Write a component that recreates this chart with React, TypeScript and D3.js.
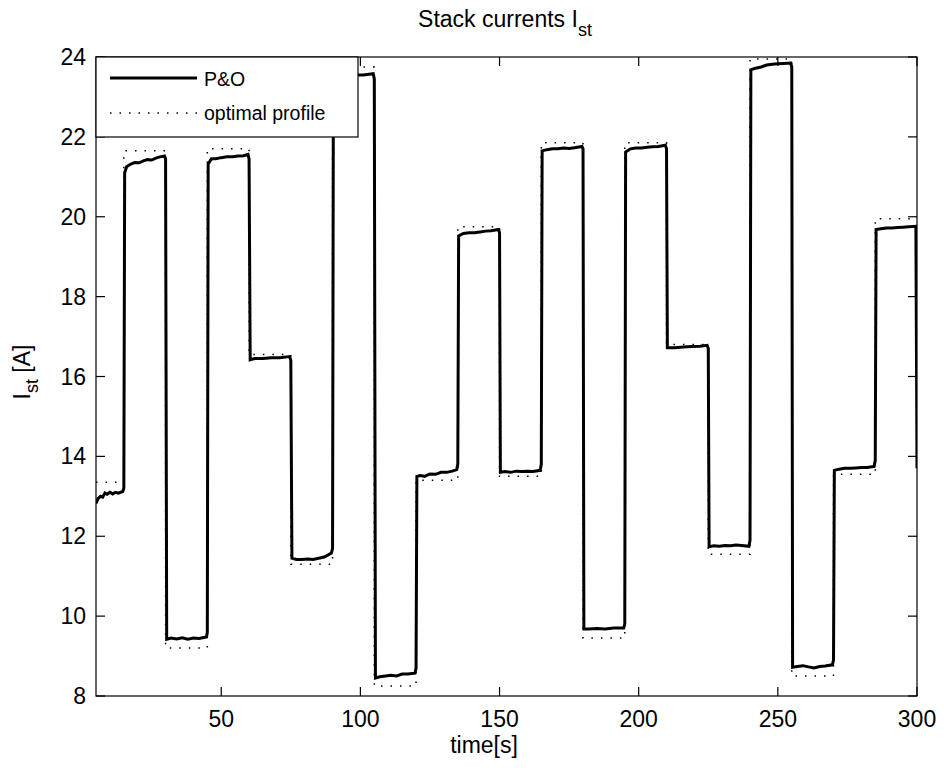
import React from "react";
import * as d3 from "d3";

// ---- data ----
const stepTimes = [5, 15, 30, 45, 60, 75, 90, 105, 120, 135, 150, 165, 180, 195, 210, 225, 240, 255, 270, 285, 300];
const optimalLevels = [13.35, 21.65, 9.2, 21.7, 16.55, 11.3, 23.75, 8.25, 13.4, 19.75, 13.5, 21.85, 9.45, 21.85, 16.8, 11.55, 23.95, 8.5, 13.55, 19.95];

const poPoints: [number, number][] = [
  [5, 12.82], [5.8, 12.95], [6.6, 13.0], [7.4, 12.98], [8.2, 13.08], [9, 13.05], [10, 13.1], [11, 13.06], [12, 13.1], [13, 13.08], [14.6, 13.12],
  [15, 13.2], [15.3, 21.1],
  [16, 21.25], [17.5, 21.32], [19, 21.36], [20.5, 21.35], [22, 21.4], [23.5, 21.43], [25, 21.42], [26.5, 21.47], [28, 21.5], [29.6, 21.52],
  [30, 21.45], [30.4, 9.42],
  [32, 9.45], [34, 9.43], [36, 9.46], [38, 9.42], [40, 9.45], [42, 9.44], [44.7, 9.48],
  [45, 9.6], [45.3, 21.32],
  [46.5, 21.45], [48, 21.45], [50, 21.48], [52, 21.5], [54, 21.5], [56, 21.52], [58, 21.53], [59.6, 21.56],
  [60, 21.45], [60.4, 16.42],
  [62, 16.45], [65, 16.45], [68, 16.47], [71, 16.47], [74.6, 16.5],
  [75, 16.4], [75.4, 11.45],
  [77, 11.42], [79, 11.42], [81, 11.43], [83, 11.42], [85, 11.45], [87, 11.48], [89.6, 11.58],
  [90, 11.7], [90.3, 23.5],
  [92, 23.5], [95, 23.52], [98, 23.55], [101, 23.55], [104.6, 23.58],
  [105, 23.45], [105.4, 8.45],
  [107, 8.48], [109, 8.5], [111, 8.52], [113, 8.5], [115, 8.55], [117, 8.55], [119.6, 8.57],
  [120, 8.7], [120.3, 13.5],
  [121.5, 13.52], [123, 13.5], [125, 13.56], [127, 13.55], [129, 13.6], [131, 13.6], [133, 13.63], [134.6, 13.67],
  [135, 13.8], [135.3, 19.52],
  [137, 19.58], [139, 19.6], [141, 19.6], [143, 19.62], [145, 19.64], [147, 19.65], [149.6, 19.68],
  [150, 19.6], [150.3, 13.6],
  [152, 13.62], [154, 13.6], [156, 13.63], [158, 13.62], [160, 13.63], [162, 13.62], [164.6, 13.65],
  [165, 13.8], [165.3, 21.65],
  [167, 21.68], [169, 21.7], [171, 21.7], [173, 21.72], [175, 21.71], [177, 21.73], [179.6, 21.76],
  [180, 21.7], [180.3, 9.68],
  [182, 9.68], [185, 9.69], [188, 9.68], [191, 9.7], [194.6, 9.7],
  [195, 9.8], [195.3, 21.62],
  [197, 21.7], [199, 21.72], [201, 21.72], [203, 21.74], [205, 21.75], [207, 21.76], [209.6, 21.79],
  [210, 21.7], [210.3, 16.72],
  [213, 16.72], [216, 16.74], [219, 16.75], [222, 16.76], [224.6, 16.78],
  [225, 16.7], [225.3, 11.74],
  [227, 11.76], [229, 11.75], [231, 11.77], [233, 11.76], [235, 11.78], [237, 11.77], [239.6, 11.75],
  [240, 11.9], [240.3, 23.68],
  [242, 23.72], [244, 23.75], [246, 23.8], [248, 23.82], [250, 23.83], [252, 23.84], [254.6, 23.85],
  [255, 23.75], [255.3, 8.72],
  [257, 8.74], [259, 8.76], [261, 8.73], [263, 8.7], [265, 8.74], [267, 8.75], [269.6, 8.78],
  [270, 8.9], [270.3, 13.65],
  [272, 13.68], [274, 13.7], [276, 13.7], [278, 13.71], [280, 13.72], [282, 13.72], [284.6, 13.75],
  [285, 13.9], [285.3, 19.68],
  [287, 19.7], [289, 19.72], [291, 19.72], [293, 19.73], [295, 19.74], [297, 19.75], [299.6, 19.76],
  [300, 13.7],
];

const xTicks = [50, 100, 150, 200, 250, 300];
const yTicks = [8, 10, 12, 14, 16, 18, 20, 22, 24];
const legendLabels = ["P&O", "optimal profile"];

// ---- layout ----
const W = 944, H = 768;
const left = 96, right = 917, top = 57, bottom = 696;
const font = "'Liberation Sans', Arial, Helvetica, sans-serif";

export default function App() {
  const x = d3.scaleLinear().domain([5, 300]).range([left, right]);
  const y = d3.scaleLinear().domain([8, 24]).range([bottom, top]);

  const optPts: [number, number][] = optimalLevels.map((v, i) => [stepTimes[i], v]);
  optPts.push([stepTimes[stepTimes.length - 1], optimalLevels[optimalLevels.length - 1]]);

  const stepLine = d3.line<[number, number]>().x(d => x(d[0])).y(d => y(d[1])).curve(d3.curveStepAfter);
  const line = d3.line<[number, number]>().x(d => x(d[0])).y(d => y(d[1]));

  const tickLen = 9;

  return (
    <svg width={W} height={H} style={{ position: "absolute", left: 0, top: 0, background: "#fff" }} fontFamily={font}>
      <defs>
        <clipPath id="plot">
          <rect x={left} y={top} width={right - left} height={bottom - top} />
        </clipPath>
      </defs>
      <rect x={0} y={0} width={W} height={H} fill="#fff" />
      <g clipPath="url(#plot)">
        <path d={stepLine(optPts) || ""} fill="none" stroke="#000" strokeWidth={1.5} strokeDasharray="1.5,8" />
        <path d={line(poPoints) || ""} fill="none" stroke="#000" strokeWidth={3} strokeLinejoin="miter" />
      </g>

      {/* axes box */}
      <rect x={left} y={top} width={right - left} height={bottom - top} fill="none" stroke="#000" strokeWidth={1.2} />
      {xTicks.map(t => (
        <g key={"x" + t}>
          <line x1={x(t)} x2={x(t)} y1={bottom} y2={bottom - tickLen} stroke="#000" strokeWidth={1.2} />
          <line x1={x(t)} x2={x(t)} y1={top} y2={top + tickLen} stroke="#000" strokeWidth={1.2} />
          <text x={x(t)} y={727} textAnchor="middle" fontSize={23} fill="#000">{t}</text>
        </g>
      ))}
      {yTicks.map(t => (
        <g key={"y" + t}>
          <line x1={left} x2={left + tickLen} y1={y(t)} y2={y(t)} stroke="#000" strokeWidth={1.2} />
          <line x1={right} x2={right - tickLen} y1={y(t)} y2={y(t)} stroke="#000" strokeWidth={1.2} />
          <text x={86} y={y(t) + 8} textAnchor="end" fontSize={23} fill="#000">{t}</text>
        </g>
      ))}

      {/* title */}
      <text x={505} y={27} textAnchor="middle" fontSize={23} fill="#000">
        Stack currents I<tspan fontSize={18} dy={9}>st</tspan>
      </text>
      {/* x label */}
      <text x={484} y={753} textAnchor="middle" fontSize={23} fill="#000">time[s]</text>
      {/* y label */}
      <text transform={`translate(30,372) rotate(-90)`} textAnchor="middle" fontSize={23} fill="#000">
        I<tspan fontSize={18} dy={8}>st</tspan><tspan dy={-8}> [A]</tspan>
      </text>

      {/* legend */}
      <g>
        <rect x={left} y={top} width={262} height={80} fill="#fff" stroke="#000" strokeWidth={1.2} />
        <line x1={110} x2={197} y1={78} y2={78} stroke="#000" strokeWidth={3} />
        <text x={204} y={86} fontSize={19.5} fill="#000">{legendLabels[0]}</text>
        <line x1={110} x2={197} y1={113} y2={113} stroke="#000" strokeWidth={1.5} strokeDasharray="1.5,8" />
        <text x={204} y={120} fontSize={19.5} fill="#000">{legendLabels[1]}</text>
      </g>
    </svg>
  );
}
